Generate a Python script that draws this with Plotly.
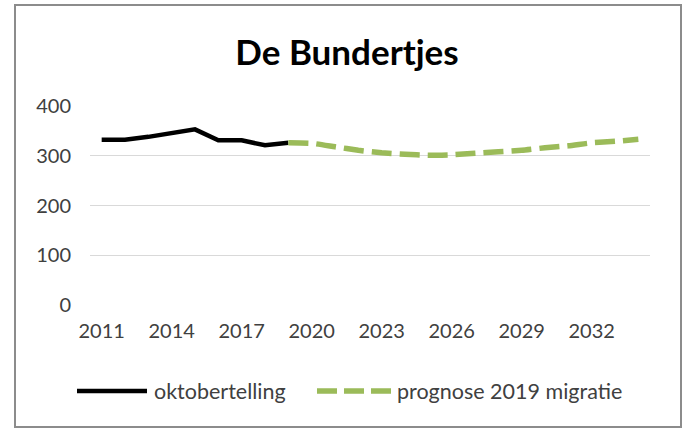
import plotly.graph_objects as go

years = [str(y) for y in range(2011, 2035)]
tick_years = [str(y) for y in range(2011, 2035, 3)]

count_years = [str(y) for y in range(2011, 2020)]
oktobertelling = [332, 332, 338, 346, 353, 331, 331, 321, 326]

prog_years = [str(y) for y in range(2019, 2035)]
prognose = [326, 325, 318, 311, 306, 303, 301, 302, 305, 308, 311, 316, 320, 326, 329, 333]

y_ticks = [0, 100, 200, 300, 400]

W, H = 687, 430
ML, MR, MT, MB = 90, 37, 106, 125
FONT = "Lato"
GREEN = "#9BBB59"
TXT = "#404040"

def px(x):
    return (x - ML) / (W - ML - MR)

def py(y):
    return (H - MB - y) / (H - MT - MB)

fig = go.Figure()
fig.add_trace(go.Scatter(x=count_years, y=oktobertelling, mode="lines",
                         name="oktobertelling",
                         line=dict(color="black", width=4.5)))
fig.add_trace(go.Scatter(x=prog_years, y=prognose, mode="lines",
                         name="prognose 2019 migratie",
                         line=dict(color=GREEN, width=5.5, dash="20px,8px",
                                   shape="spline", smoothing=0.5)))

fig.update_layout(
    width=W, height=H,
    margin=dict(l=ML, r=MR, t=MT, b=MB),
    paper_bgcolor="white", plot_bgcolor="white",
    showlegend=False,
    font=dict(family=FONT, color=TXT, size=20),
    title=dict(text="<b>De Bundertjes</b>", x=347 / W, xanchor="center",
               y=1 - 53 / H, yanchor="middle",
               font=dict(family=FONT, size=35, color="black")),
)
fig.update_xaxes(type="category", categoryorder="array", categoryarray=years,
                 range=[-0.5, len(years) - 0.5],
                 tickmode="array", tickvals=tick_years, ticktext=tick_years,
                 showgrid=False, showline=False, ticks="", zeroline=False,
                 tickfont=dict(size=20, color=TXT, family=FONT), ticklabelstandoff=12)
fig.update_yaxes(range=[0, 400], tickvals=y_ticks, showgrid=True,
                 gridcolor="#D9D9D9", gridwidth=1, zeroline=False,
                 showline=False, ticks="",
                 tickfont=dict(size=20, color=TXT, family=FONT), ticklabelstandoff=18)

# chart border
fig.add_shape(type="rect", xref="paper", yref="paper",
              x0=px(15), x1=px(681), y0=py(427), y1=py(5),
              line=dict(color="#8C8C8C", width=2), layer="below")

# legend (manual)
ly = py(391)
fig.add_shape(type="line", xref="paper", yref="paper",
              x0=px(77), x1=px(147), y0=ly, y1=ly,
              line=dict(color="black", width=4.5))
fig.add_annotation(xref="paper", yref="paper", x=px(152), y=ly,
                   text="oktobertelling", showarrow=False,
                   xanchor="left", yanchor="middle",
                   font=dict(family=FONT, size=21.5, color=TXT))
fig.add_shape(type="line", xref="paper", yref="paper",
              x0=px(317), x1=px(391), y0=ly, y1=ly,
              line=dict(color=GREEN, width=5.5, dash="20px,7px"))
fig.add_annotation(xref="paper", yref="paper", x=px(395), y=ly,
                   text="prognose 2019 migratie", showarrow=False,
                   xanchor="left", yanchor="middle",
                   font=dict(family=FONT, size=21.5, color=TXT))

fig.write_html("out.html", config={"displayModeBar": False},
               post_script="document.body.style.margin='0';document.body.style.overflow='hidden';")
